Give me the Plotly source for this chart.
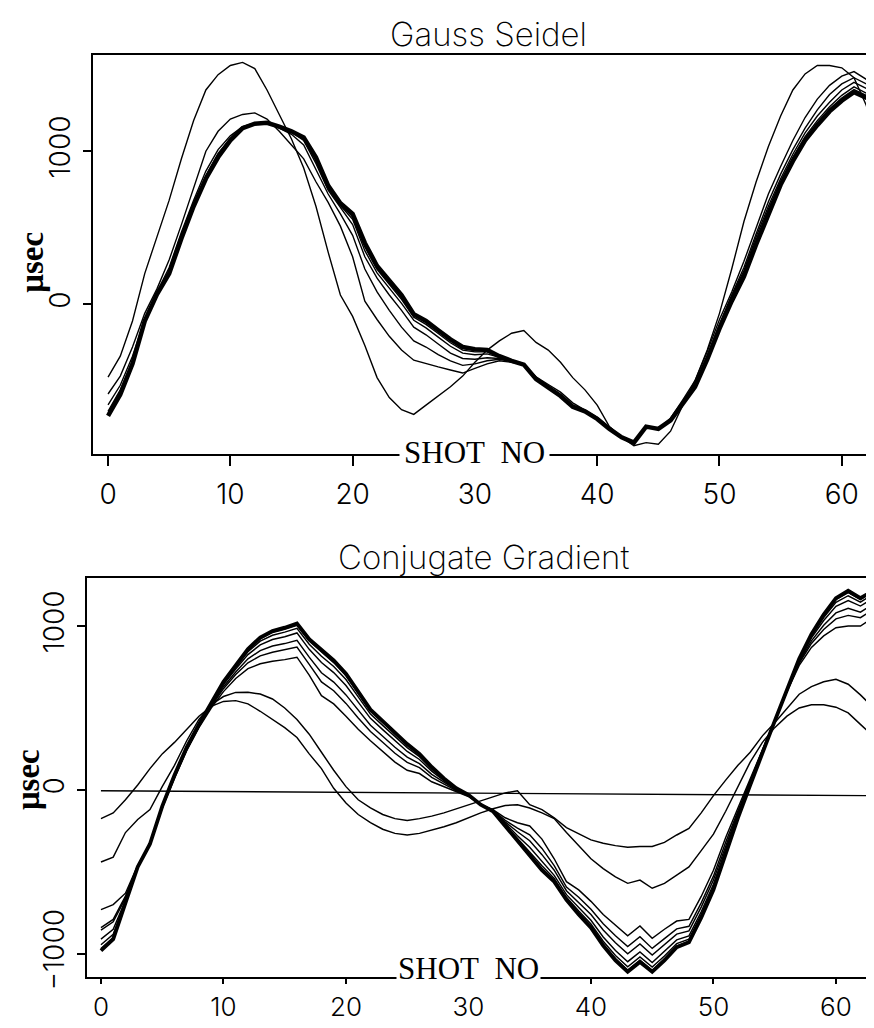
import plotly.graph_objects as go

SHOTS = list(range(64))
X_TICKS = [0, 10, 20, 30, 40, 50, 60]
GS_Y_TICKS = [0, 1000]
CG_Y_TICKS = [-1000, 0, 1000]
TITLE_GS = "Gauss Seidel"
TITLE_CG = "Conjugate Gradient"
Y_LABEL = "<b>μsec</b>"
X_LABEL = "SHOT\u00a0\u00a0NO"

# ---------------- Gauss Seidel iterations ----------------
GS_1 = [-477, -340, -110, 200, 440, 680, 950, 1200, 1400, 1500, 1560, 1580, 1540, 1400, 1240, 1080,
        890, 640, 340, 60, -80, -270, -480, -610, -690, -720, -660, -600, -540, -470, -380, -300,
        -240, -190, -172, -250, -300, -380, -480, -560, -660, -800, -870, -925, -905, -915, -830,
        -660, -500, -300, -60, 230, 540, 800, 1030, 1230, 1400, 1505, 1560, 1560, 1545, 1480, 1300, 1030]
GS_2 = [-587, -470, -280, -60, 100, 290, 520, 760, 1000, 1130, 1210, 1240, 1250, 1210, 1130, 1040,
        950, 800, 665, 510, 310, 20, -100, -210, -300, -366, -390, -410, -430, -450, -420, -390,
        -370, -380, -395, -475, -525, -575, -645, -690, -740, -805, -865, -900, -800, -815, -745,
        -625, -500, -310, -100, 80, 280, 500, 720, 900, 1070, 1220, 1340, 1430, 1490, 1520, 1470, 1440]
GS_3 = [-658, -530, -340, -100, 80, 240, 470, 680, 870, 1010, 1100, 1160, 1185, 1185, 1150, 1110,
        1040, 880, 720, 590, 450, 230, 80, -40, -150, -240, -280, -330, -370, -400, -390, -370,
        -360, -375, -395, -480, -535, -590, -660, -695, -745, -810, -868, -903, -800, -815, -752,
        -638, -520, -335, -130, 60, 240, 460, 670, 850, 1010, 1150, 1270, 1370, 1440, 1480, 1440, 1410]
GS_4 = [-700, -560, -370, -110, 70, 220, 450, 655, 840, 985, 1085, 1150, 1180, 1185, 1160, 1125,
        1070, 920, 745, 630, 520, 310, 170, 60, -40, -150, -200, -260, -320, -355, -360, -350,
        -355, -372, -392, -485, -540, -595, -665, -698, -748, -813, -869, -904, -800, -815, -756,
        -644, -530, -348, -140, 50, 220, 440, 640, 820, 980, 1120, 1230, 1320, 1400, 1450, 1410, 1380]
GS_5 = [-715, -575, -380, -110, 68, 210, 440, 648, 830, 972, 1078, 1150, 1180, 1185, 1160, 1128,
        1080, 940, 760, 645, 555, 350, 205, 105, 5, -105, -155, -215, -275, -320, -330, -325,
        -348, -371, -391, -488, -543, -598, -668, -699, -749, -814, -870, -905, -800, -815, -758,
        -647, -535, -354, -150, 45, 205, 420, 620, 800, 960, 1095, 1200, 1290, 1365, 1420, 1380, 1345]
GS_6 = [-722, -582, -385, -110, 66, 205, 435, 644, 825, 966, 1074, 1150, 1180, 1185, 1160, 1129,
        1085, 950, 768, 652, 572, 375, 228, 132, 32, -85, -132, -192, -252, -300, -312, -312,
        -344, -370, -393, -489, -544, -599, -669, -700, -750, -815, -870, -905, -800, -815, -759,
        -648, -538, -357, -155, 30, 192, 405, 605, 790, 950, 1082, 1185, 1275, 1348, 1402, 1365, 1328]
GS_FINAL = [-730, -590, -390, -110, 65, 200, 430, 640, 820, 960, 1070, 1150, 1180, 1185, 1160, 1130,
            1090, 960, 775, 660, 590, 400, 250, 160, 60, -65, -110, -170, -230, -280, -295, -300,
            -340, -370, -395, -490, -545, -600, -670, -700, -750, -815, -870, -905, -800, -815, -760,
            -650, -540, -360, -160, 20, 180, 390, 590, 780, 935, 1070, 1170, 1260, 1330, 1385, 1350, 1310]

# ---------------- Conjugate Gradient iterations ----------------
CG_1 = [-175, -140, -60, 30, 130, 220, 290, 370, 450, 510, 540, 545, 525, 480, 430, 380,
        320, 220, 130, 10, -80, -150, -200, -240, -265, -275, -265, -245, -225, -200, -170, -140,
        -115, -95, -90, -110, -140, -175, -260, -340, -420, -480, -530, -570, -550, -600, -570,
        -520, -470, -370, -270, -130, 20, 170, 290, 380, 450, 500, 520, 520, 505, 470, 400, 331]
CG_2 = [-440, -410, -260, -180, -120, 20, 150, 300, 430, 520, 570, 595, 596, 585, 555, 500,
        430, 340, 230, 120, 20, -60, -110, -150, -175, -187, -175, -160, -140, -115, -90, -65,
        -40, -18, -5, -90, -120, -170, -230, -270, -305, -325, -340, -350, -345, -345, -320,
        -275, -235, -140, -35, 60, 150, 230, 330, 410, 500, 584, 630, 660, 675, 645, 580, 506]
CG_3 = [-730, -700, -630, -460, -330, -110, 70, 240, 380, 500, 600, 680, 740, 770, 785, 795,
        810, 700, 575, 525, 450, 370, 300, 235, 170, 120, 100, 50, 20, -10, -40, -90,
        -120, -170, -200, -220, -300, -420, -560, -610, -680, -760, -825, -890, -830, -905, -850,
        -800, -790, -650, -490, -290, -110, 70, 250, 430, 600, 760, 870, 940, 990, 1000, 1000, 1050]
CG_4 = [-840, -790, -648, -463, -330, -107, 76, 246, 386, 509, 618, 704, 776, 818, 840, 854,
        872, 766, 659, 605, 528, 439, 357, 291, 224, 168, 136, 77, 35, -4, -37, -90,
        -123, -185, -233, -274, -357, -462, -593, -655, -728, -817, -890, -956, -896, -967, -907,
        -848, -832, -689, -526, -320, -128, 58, 244, 427, 603, 772, 894, 979, 1044, 1065, 1051, 1100]
CG_5 = [-855, -805, -660, -465, -330, -105, 80, 250, 390, 515, 630, 720, 800, 850, 878, 893,
        913, 810, 715, 658, 580, 485, 395, 328, 260, 200, 160, 95, 45, 0, -35, -90,
        -125, -195, -255, -310, -395, -490, -615, -685, -760, -855, -933, -1000, -940, -1008, -945,
        -880, -860, -715, -550, -340, -140, 50, 240, 425, 605, 780, 910, 1005, 1080, 1108, 1085, 1133]
CG_6 = [-910, -851, -673, -467, -330, -103, 84, 254, 394, 522, 643, 738, 826, 885, 918, 935,
        958, 858, 777, 716, 637, 536, 437, 368, 300, 235, 186, 115, 56, 4, -33, -90,
        -127, -206, -279, -350, -437, -521, -639, -718, -795, -897, -980, -1048, -988, -1053, -987,
        -915, -891, -744, -576, -362, -153, 41, 236, 423, 607, 789, 928, 1034, 1120, 1155, 1122, 1169]
CG_7 = [-945, -881, -682, -469, -330, -101, 87, 257, 397, 526, 652, 749, 843, 908, 944, 963,
        986, 889, 816, 753, 674, 568, 463, 394, 325, 258, 203, 127, 63, 7, -31, -90,
        -129, -213, -295, -375, -463, -540, -655, -739, -818, -923, -1010, -1079, -1019, -1081, -1013,
        -938, -910, -762, -593, -376, -162, 36, 233, 421, 609, 794, 939, 1052, 1145, 1185, 1146, 1192]
CG_8 = [-968, -900, -687, -470, -330, -100, 89, 259, 399, 528, 657, 756, 854, 922, 961, 980,
        1005, 909, 841, 777, 697, 589, 480, 411, 341, 272, 214, 136, 68, 9, -30, -90,
        -130, -218, -305, -391, -480, -553, -665, -753, -832, -940, -1029, -1099, -1039, -1100, -1031,
        -952, -923, -774, -604, -385, -167, 32, 231, 420, 610, 798, 946, 1064, 1161, 1204, 1162, 1207]
CG_FINAL = [-980, -910, -690, -470, -330, -100, 90, 260, 400, 530, 660, 760, 860, 930, 970, 990,
            1015, 920, 855, 790, 710, 600, 490, 420, 350, 280, 220, 140, 70, 10, -30, -90,
            -130, -220, -310, -400, -490, -560, -670, -760, -840, -950, -1040, -1110, -1050, -1110, -1040,
            -960, -930, -780, -610, -390, -170, 30, 230, 420, 610, 800, 950, 1070, 1170, 1215, 1170, 1215]
CG_ZERO_SHOTS = [0, 63]
CG_ZERO = [-5, -35]

GS_SERIES = [GS_1, GS_2, GS_3, GS_4, GS_5, GS_6]
CG_SERIES = [CG_1, CG_2, CG_3, CG_4, CG_5, CG_6, CG_7, CG_8]

fig = go.Figure()

def add_line(xs, ys, xa, ya, width):
    fig.add_trace(go.Scatter(x=xs, y=ys, mode="lines", xaxis=xa, yaxis=ya,
                             line=dict(color="black", width=width),
                             hoverinfo="skip", showlegend=False))

for s in GS_SERIES:
    add_line(SHOTS, s, "x", "y", 1.4)
add_line(SHOTS, GS_FINAL, "x", "y", 4.5)

add_line(CG_ZERO_SHOTS, CG_ZERO, "x2", "y2", 1.4)
for s in CG_SERIES:
    add_line(SHOTS, s, "x2", "y2", 1.45)
add_line(SHOTS, CG_FINAL, "x2", "y2", 3.8)

W, H = 874, 1028
tick_font = dict(family="Inter, Liberation Sans", size=28, color="black", weight=300)
bottom_tick_font = dict(family="Inter, Liberation Sans", size=26, color="black", weight=300)

def xaxis_cfg(left_px, rng, anchor, standoff, ticklen, font):
    return dict(domain=[left_px / W, 1], range=rng, anchor=anchor, showline=True, linecolor="black",
                linewidth=1.8, mirror=True, ticks="outside", ticklen=ticklen, tickwidth=1.5,
                tickcolor="black", tickvals=X_TICKS, tickfont=font, showgrid=False, zeroline=False,
                ticklabelstandoff=standoff)

def yaxis_cfg(top_px, bot_px, rng, anchor, tickvals):
    return dict(domain=[1 - bot_px / H, 1 - top_px / H], range=rng, anchor=anchor, showline=True,
                linecolor="black", linewidth=1.8, ticks="outside", ticklen=8, tickwidth=1.5,
                tickcolor="black", tickvals=tickvals, tickangle=-90, tickfont=tick_font,
                showgrid=False, zeroline=False, ticklabelstandoff=2)

title_font = dict(family="Inter, DejaVu Sans", size=33, color="black", weight=250)
serif_font = dict(family="Liberation Serif, DejaVu Serif", size=31, color="black")
ylab_font = dict(family="Liberation Serif, DejaVu Serif", size=33, color="black")

annotations = [
    dict(text=TITLE_GS, x=480 / W, y=1 - 26 / H, xref="paper", yref="paper", showarrow=False,
         font=title_font, xanchor="center", yanchor="middle"),
    dict(text=TITLE_CG, x=475 / W, y=1 - 556 / H, xref="paper", yref="paper", showarrow=False,
         font=title_font, xanchor="center", yanchor="middle"),
    dict(text=Y_LABEL, x=24 / W, y=1 - 258 / H, xref="paper", yref="paper", showarrow=False,
         font=ylab_font, textangle=-90, xanchor="center", yanchor="middle"),
    dict(text=Y_LABEL, x=20 / W, y=1 - 782 / H, xref="paper", yref="paper", showarrow=False,
         font=ylab_font, textangle=-90, xanchor="center", yanchor="middle"),
    dict(text=X_LABEL, x=30, xref="x", y=1 - 452 / H, yref="paper", showarrow=False, yshift=2,
         font=serif_font, bgcolor="white", borderpad=4, xanchor="center", yanchor="middle"),
    dict(text=X_LABEL, x=30, xref="x2", y=1 - 981 / H, yref="paper", showarrow=False, yshift=8,
         font=serif_font, bgcolor="white", borderpad=1, xanchor="center", yanchor="middle"),
]

fig.update_layout(
    width=W, height=H, margin=dict(l=0, r=0, t=0, b=0),
    paper_bgcolor="white", plot_bgcolor="white",
    xaxis=xaxis_cfg(85, [-1.23, 63.29], "y", 4, 10, tick_font),
    yaxis=yaxis_cfg(48, 452, [-981, 1626], "x", GS_Y_TICKS),
    xaxis2=xaxis_cfg(79, [-1.14, 63.76], "y2", 0, 6, bottom_tick_font),
    yaxis2=yaxis_cfg(577, 981, [-1139, 1295], "x2", CG_Y_TICKS),
    annotations=annotations,
)

fig.write_html("out.html")
